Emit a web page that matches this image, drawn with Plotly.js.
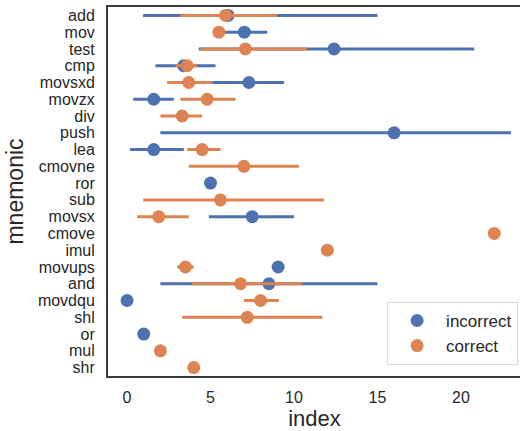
<!DOCTYPE html>
<html>
<head>
<meta charset="utf-8">
<script src="https://cdn.plot.ly/plotly-3.0.1.min.js"></script>
<style>
html,body{margin:0;padding:0;overflow:hidden;background:#fff;}
#chart{width:524px;height:431px;}
</style>
</head>
<body>
<div id="chart"></div>
<script>
var mnemonics = ["add","mov","test","cmp","movsxd","movzx","div","push","lea","cmovne","ror","sub","movsx","cmove","imul","movups","and","movdqu","shl","or","mul","shr"];

// incorrect: mean, CI low, CI high (null = no data)
var incMean = [6.05, 7.03, 12.4, 3.4, 7.3, 1.6, null, 16.0, 1.6, null, 5.0, null, 7.5, null, null, 9.05, 8.5, 0.0, null, 1.0, null, null];
var incLow  = [0.96, 5.5, 4.3, 1.7, 5.1, 0.37, null, 2.0, 0.18, null, 5.0, null, 4.9, null, null, 9.05, 2.0, 0.0, null, 1.0, null, null];
var incHigh = [15.0, 8.4, 20.8, 5.3, 9.4, 2.8, null, 23.0, 3.4, null, 5.0, null, 10.0, null, null, 9.05, 15.0, 0.0, null, 1.0, null, null];

// correct: mean, CI low, CI high
var corMean = [5.9, 5.5, 7.09, 3.6, 3.7, 4.8, 3.3, null, 4.5, 7.0, null, 5.6, 1.9, 22.0, 12.0, 3.5, 6.8, 8.0, 7.2, null, 2.0, 4.0];
var corLow  = [3.2, 5.5, 4.4, 2.9, 2.4, 3.2, 2.0, null, 3.6, 3.7, null, 0.97, 0.6, 22.0, 12.0, 3.0, 3.9, 7.0, 3.3, null, 2.0, 4.0];
var corHigh = [9.0, 5.5, 10.8, 4.2, 5.1, 6.5, 4.5, null, 5.6, 10.3, null, 11.8, 3.7, 22.0, 12.0, 4.0, 10.5, 9.1, 11.7, null, 2.0, 4.0];

var xTicks = [0, 5, 10, 15, 20];

function plus(m, h){ return m.map(function(v,i){ return v===null? null : h[i]-v; }); }
function minus(m, l){ return m.map(function(v,i){ return v===null? null : v-l[i]; }); }

var blue = "#4c72b0", orange = "#dd8452";

var traces = [
  {
    type: "scatter", mode: "markers", name: "incorrect",
    x: incMean, y: mnemonics,
    marker: {color: blue, size: 13},
    error_x: {type: "data", symmetric: false, array: plus(incMean, incHigh), arrayminus: minus(incMean, incLow),
              color: blue, thickness: 3, width: 0}
  },
  {
    type: "scatter", mode: "markers", name: "correct",
    x: corMean, y: mnemonics,
    marker: {color: orange, size: 13},
    error_x: {type: "data", symmetric: false, array: plus(corMean, corHigh), arrayminus: minus(corMean, corLow),
              color: orange, thickness: 3, width: 0}
  }
];

var layout = {
  width: 524, height: 431,
  margin: {l: 108, r: 3, t: 7, b: 55},
  paper_bgcolor: "#fff", plot_bgcolor: "#fff",
  font: {family: "Liberation Sans, Arial, sans-serif", size: 16, color: "#262626"},
  showlegend: true,
  legend: {
    x: 0.993, y: 0.03, xanchor: "right", yanchor: "bottom",
    bgcolor: "rgba(255,255,255,0.85)", bordercolor: "#d9d9d9", borderwidth: 1,
    font: {size: 17, color: "#262626"}, itemwidth: 48, tracegroupgap: 0
  },
  xaxis: {
    range: [-1.14, 23.6], tickvals: xTicks, ticktext: xTicks.map(String),
    showgrid: false, zeroline: false, showline: true, linecolor: "#3a3a3a", linewidth: 2, mirror: true,
    ticks: "", ticklabelstandoff: 6, tickfont: {size: 16},
    title: {text: "index", font: {size: 22}, standoff: 6}
  },
  yaxis: {
    type: "category", categoryorder: "array", categoryarray: mnemonics,
    tickmode: "array", tickvals: mnemonics, ticktext: mnemonics,
    range: [21.5, -0.5],
    showgrid: false, zeroline: false, showline: true, linecolor: "#3a3a3a", linewidth: 2, mirror: true,
    ticks: "", ticklabelstandoff: 8, tickfont: {size: 16},
    title: {text: "mnemonic", font: {size: 23}, standoff: 8}
  }
};

Plotly.newPlot("chart", traces, layout, {displayModeBar: false, staticPlot: true});
</script>
</body>
</html>
